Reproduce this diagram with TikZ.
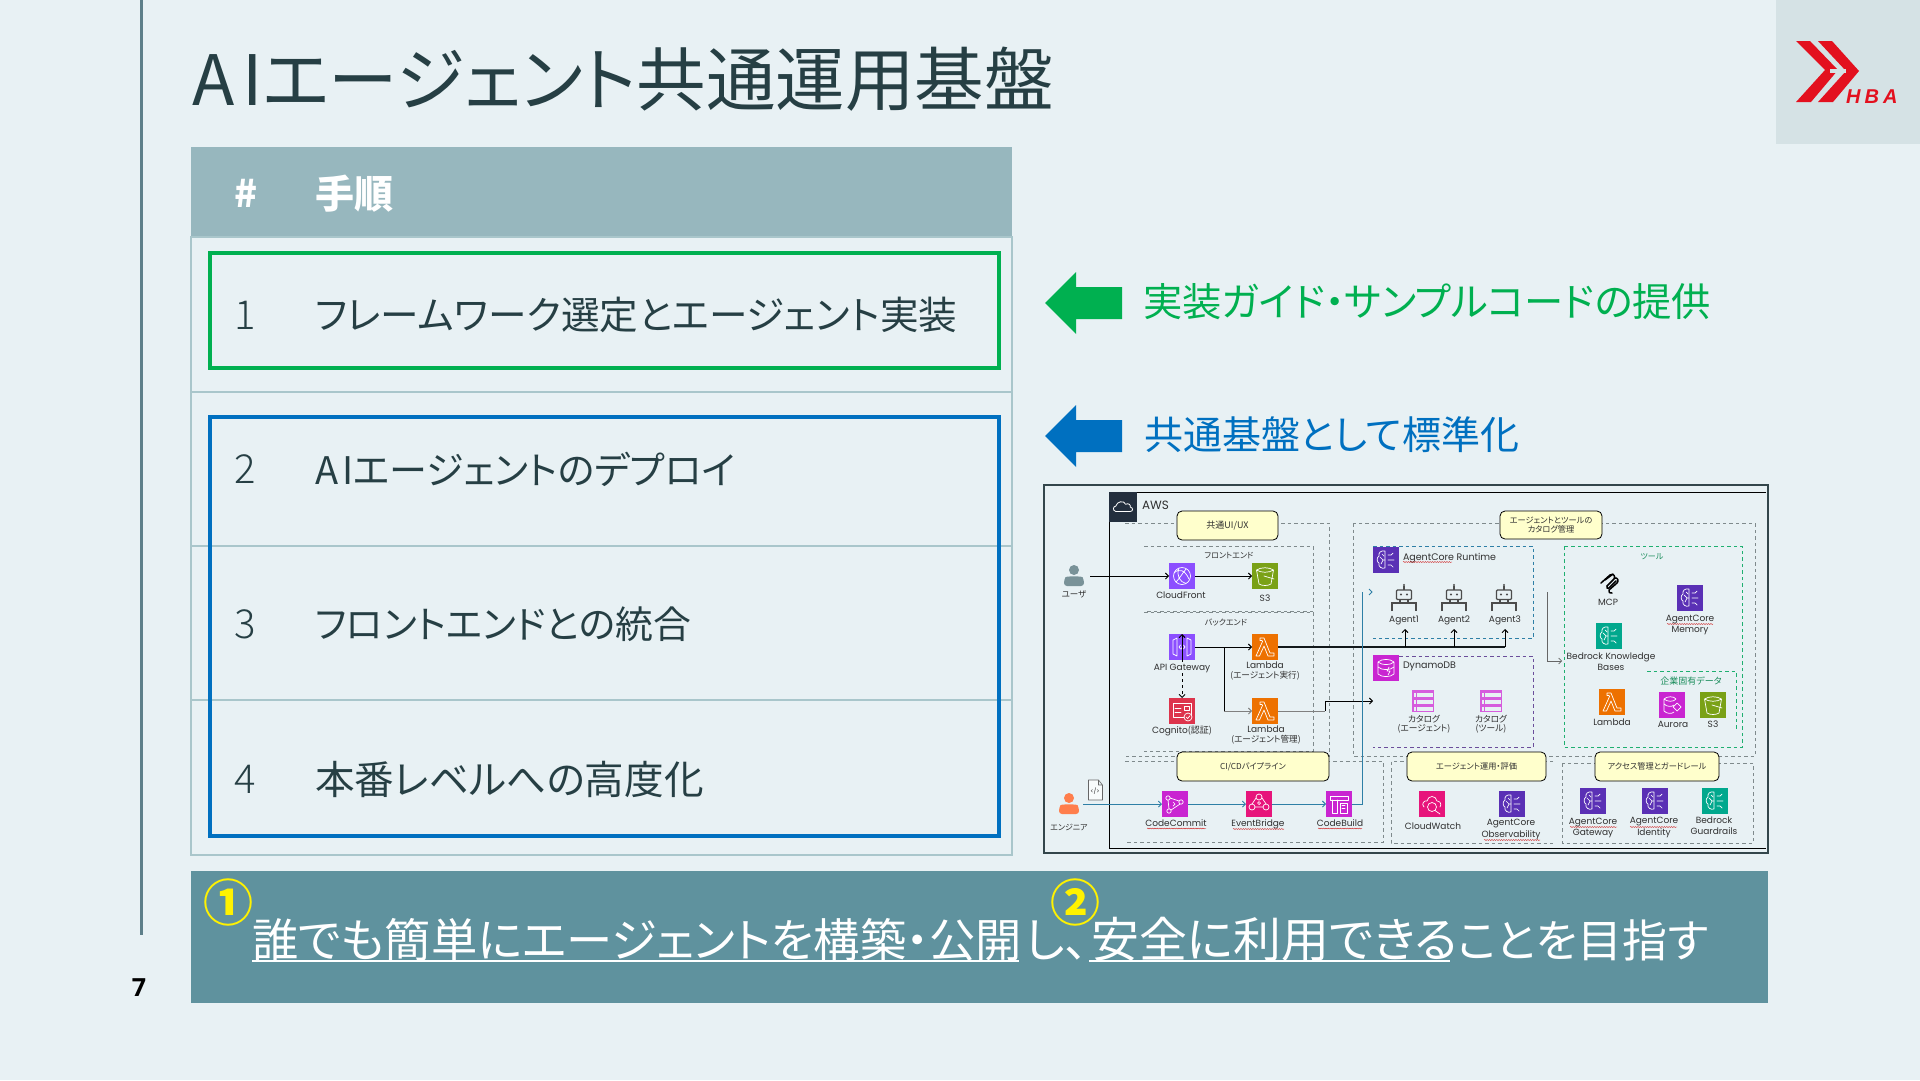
\documentclass[tikz,border=0pt]{standalone}
\usepackage{fontspec}
\usetikzlibrary{arrows.meta,decorations.pathmorphing,calc}
\setmainfont[RawFeature={+palt}]{Noto Sans CJK JP}
\newfontfamily\lightf[RawFeature={+palt}]{Noto Sans CJK JP Light}
\newfontfamily\lat{Poppins}
\newfontfamily\numf{Open Sans}
\newfontfamily\hbaf[LetterSpace=20]{Liberation Sans}
\newcommand\fs[1]{\fontsize{#1}{#1}\selectfont}
\definecolor{bgc}{HTML}{E8F1F4}
\definecolor{rulec}{HTML}{5D7F89}
\definecolor{headc}{HTML}{97B7BE}
\definecolor{linec}{HTML}{A9C6CB}
\definecolor{barc}{HTML}{5F929E}
\definecolor{ink}{HTML}{263F44}
\definecolor{grn}{HTML}{00B050}
\definecolor{blu}{HTML}{0070C0}
\definecolor{logoc}{HTML}{E3101E}
\definecolor{logobg}{HTML}{D5E2E5}
\definecolor{cPurple}{HTML}{8C4FFF}
\definecolor{cGreen}{HTML}{7AA116}
\definecolor{cOrange}{HTML}{ED7100}
\definecolor{cRed}{HTML}{DD344C}
\definecolor{cMag}{HTML}{C925D1}
\definecolor{cPink}{HTML}{E7157B}
\definecolor{cBrain}{HTML}{5A30B5}
\definecolor{cTeal}{HTML}{01A88D}
\definecolor{pipe}{HTML}{2E7FA6}
\definecolor{pill}{HTML}{FFFFCC}
\definecolor{dashg}{HTML}{7F8A8C}
\definecolor{dashp}{HTML}{6B4E9B}
\definecolor{dashb}{HTML}{2E7FA6}
\definecolor{dashn}{HTML}{1FAF70}
\definecolor{labc}{HTML}{303030}
\tikzset{
  txt/.style={inner sep=0pt,outer sep=0pt,anchor=west},
  lab/.style={inner sep=0pt,align=center,text=labc,font=\fs{8}},
  ico/.style={minimum size=26pt,inner sep=0pt,outer sep=0pt},
  gl/.style={draw=white,line width=.7pt,line join=round,line cap=round},
  dbox/.style={dash pattern=on 3.5pt off 3pt,line width=.7pt,draw=dashg},
  pillbox/.style={draw=black,line width=.8pt,fill=pill,rounded corners=5pt,inner sep=0pt,align=center,font=\fs{8.2},text=labc},
  arr/.style={-{Straight Barb[length=3pt,width=6pt]},line width=.9pt,draw=black},
  pipearr/.style={-{Straight Barb[length=3pt,width=6pt]},line width=.9pt,draw=pipe},
  squig/.style={draw=red!80!black,line width=.35pt,decorate,decoration={snake,amplitude=.5pt,segment length=2.4pt}},
  gbrain/.pic={
    \draw[gl] (-1,-9) .. controls (-5,-10) and (-8,-7) .. (-7,-4) .. controls (-10,-2) and (-9,2) .. (-7,3) .. controls (-8,7) and (-4,9) .. (-1,8) -- cycle;
    \draw[gl] (-6,-3) -- (-3,0) -- (-5,4) (-3,0)--(-1,0) (-4,-6)--(-2,-4);
    \draw[gl] (2,-5) -- (5,-5) (2,0) -- (8,0) (2,5) -- (5,5) (5,-5)--(7,-7) (5,5)--(7,7);
  },
  gcf/.pic={
    \draw[gl] (0,0) circle (8.5);
    \draw[gl] (-8,-3) .. controls (-3,-8) and (3,-6) .. (7,3) (-3,-8) .. controls (-6,0) and (-2,6) .. (4,7.5) (4,-7) .. controls (0,-2) and (-3,3) .. (-6,6);
  },
  gs3/.pic={
    \draw[gl] (-8.5,-6) .. controls (-4,-9) and (4,-9) .. (8.5,-6) .. controls (4,-3) and (-4,-3) .. (-8.5,-6) -- (-6,8) .. controls (-3,10) and (3,10) .. (6,8) -- (8.5,-6);
    \draw[gl] (-1,0) -- (9,3);
  },
  gapi/.pic={
    \draw[gl] (-9,-7) -- (-5,-9) -- (-5,9) -- (-9,7) -- cycle (9,-7) -- (5,-9) -- (5,9) -- (9,7) -- cycle;
    \draw[gl] (-3,0) -- (-1.5,-2) (-3,0) -- (-1.5,2) (3,0) -- (1.5,-2) (3,0) -- (1.5,2) (-.5,2) -- (.5,-2);
  },
  glam/.pic={
    \draw[gl] (-5,-9) -- (-1,-9) -- (5,6) -- (9,6) -- (9,9) -- (3,9) -- (-1,-1) -- (-5.5,9) -- (-9,9) -- (-2.5,-5.5) -- (-3,-6.5) -- (-5,-6.5) -- cycle;
  },
  gcog/.pic={
    \draw[gl] (-9,-8) rectangle (9,6);
    \draw[gl] (-7,-3) -- (-1,-3) (-7,1) -- (-1,1) (2,-5) rectangle (7,-1);
    \draw[gl,fill=cRed] (6,6) circle (4);
    \draw[gl] (4.2,6) -- (5.6,7.6) -- (8,4.6);
  },
  gcom/.pic={
    \draw[gl] (-7,-6) circle (2.2) (-6,7) circle (2.2) (6,-2) circle (2.2);
    \draw[gl] (-7,-4) -- (-6,5) (-5,-6) -- (4,-3) (-4,6) -- (5,0) (-2,-2) -- (0,0) -- (-2,2);
  },
  gev/.pic={
    \draw[gl] (0,-7) circle (3) (-7,3) circle (3) (7,3) circle (3);
    \draw[gl] (-3,-6) -- (-7,0) (3,-6) -- (7,0) (-4,3) -- (4,3);
    \draw[gl] (0,-1) circle (1.5);
  },
  gbuild/.pic={
    \draw[gl] (-9,-8) -- (9,-8) -- (9,-4) -- (-9,-4) -- cycle;
    \draw[gl] (-7,-4) -- (-7,9) -- (-2,9) -- (-2,-4) (1,-1) rectangle (8,9);
    \draw[gl] (3,4) -- (6,4) (3,1.5) -- (6,1.5);
  },
  gdyn/.pic={
    \draw[gl] (-8,-6) .. controls (-4,-9.5) and (4,-9.5) .. (8,-6) .. controls (4,-2.5) and (-4,-2.5) .. (-8,-6) -- (-8,6) .. controls (-4,9.5) and (4,9.5) .. (8,6) -- (8,-6);
    \draw[gl] (-8,-1) .. controls (-4,2.5) and (4,2.5) .. (8,-1);
    \draw[gl] (3,-1) -- (1,3) -- (4,3) -- (2,7);
  },
  gaur/.pic={
    \draw[gl] (-8,-6) .. controls (-5,-9) and (2,-9) .. (4,-6) .. controls (2,-3) and (-5,-3) .. (-8,-6) -- (-8,6) .. controls (-5,9) and (0,9) .. (2,7);
    \draw[gl] (-8,-1) .. controls (-5,2) and (0,2) .. (2,0);
    \draw[gl] (5,-2) -- (9,2) -- (5,6) -- (1,2) -- cycle;
  },
  gcw/.pic={
    \draw[gl] (-8,3) .. controls (-11,0) and (-8,-4) .. (-5,-3) .. controls (-4,-9) and (4,-9) .. (5,-3) .. controls (8,-3) and (10,0) .. (8,3);
    \draw[gl] (0,3) circle (4.5) (3,6.5) -- (8,10);
  },
  grobot/.pic={
    \draw[draw=black!70,line width=1.2pt,rounded corners=1pt] (-7.5,-8) rectangle (7.5,1.5);
    \draw[draw=black!70,line width=1.2pt] (0,-8) -- (0,-12) (-12,13) -- (-12,5) -- (12,5) -- (12,13) (-4,1.5)--(-4,5) (4,1.5)--(4,5);
    \fill[black!70] (0,-13) circle (1.2) (-3,-3.5) circle (1.2) (3,-3.5) circle (1.2);
  },
  gtable/.pic={
    \fill[cMag!75] (-11,-11) rectangle (11,11);
    \foreach \yy in {-8,-1,6} \fill[bgc] (-6,\yy) rectangle (9.5,\yy+3.5);
    \foreach \yy in {-8,-1,6} \fill[bgc] (-9.5,\yy) rectangle (-7.5,\yy+3.5);
  },
  gperson/.pic={
    \fill (0,-6) circle (5);
    \fill[rounded corners=3pt] (-10,10) -- (-10,4) .. controls (-8,0) and (8,0) .. (10,4) -- (10,10) -- cycle;
  },
  gmcp/.pic={
    \draw[black,line width=1.5pt,line cap=round,line join=round] (-8,-1) -- (1,-9) .. controls (4,-11) and (7,-8) .. (5,-5) -- (-2,2) (-4,-4) -- (4,-10) (5,-6) .. controls (9,-7) and (10,-3) .. (8,-1) -- (0,6) .. controls (-1,8) and (1,10) .. (3,9);
    \draw[black,line width=1.5pt,line cap=round] (-2,2) .. controls (-3,4) and (-1,5) .. (0,4) -- (7,-3);
  },
  gcloud/.pic={
    \draw[white,line width=.8pt,line join=round] (-8,5) .. controls (-12,4) and (-11,-1) .. (-8,-1) .. controls (-7,-6) and (1,-8) .. (3,-3) .. controls (6,-5) and (9,-2) .. (8,0) .. controls (12,1) and (11,5) .. (8,5) -- cycle;
  },
  gdoc/.pic={
    \draw[draw=black!60,line width=.6pt,fill=white!70!bgc,line join=round] (-7,-10) -- (3,-10) -- (7,-5) -- (7,10) -- (-7,10) -- cycle (3,-10) -- (3,-5) -- (7,-5);
  },
}
\newcommand\ic[5]{\node[ico,fill=#4] (#1) at (#2,#3) {}; \pic at (#1) {#5};}
\begin{document}
\begin{tikzpicture}[x=1pt,y=-1pt]
\useasboundingbox (0,0) rectangle (1920,1080);
\fill[bgc] (0,0) rectangle (1920,1080);
% left rule
\coordinate (ruletop) at (141,0); \coordinate (rulebot) at (141,935);
\draw[rulec,line width=3pt] (ruletop) -- (rulebot);
% title
\node[txt,text=ink,font=\fs{69.5}] (title) at (192,79) {A\hspace{8pt}Iエージェント共通運用基盤};
% logo
\fill[logobg] (1776,0) rectangle (1920,144);
\fill[logoc] (1796,41) -- (1810,41) -- (1838,70) -- (1811,102) -- (1796,102) -- (1825,70) -- cycle;
\fill[logoc] (1818,41) -- (1832,41) -- (1859,71) -- (1833,102) -- (1818,102) -- (1846,71) -- cycle;
\fill[logobg] (1830,68.6) -- (1846,68.6) -- (1846,73.4) -- (1830,73.4) -- cycle;
\node[inner sep=0pt,anchor=west,text=logoc,font=\hbaf\fs{20}\bfseries\itshape] (hba) at (1846,96.5) {HBA};
% table
\fill[headc] (191,147) rectangle (1012,237);
\node[inner sep=0pt,text=white,font=\fs{38}\bfseries] (hnum) at (246,193) {\#};
\node[txt,text=white,font=\fs{39}\bfseries] (hstep) at (315,194) {手順};
\draw[linec,line width=1.2pt] (191,237) rectangle (1012,855);
\draw[linec,line width=1.2pt] (191,392) -- (1012,392) (191,546) -- (1012,546) (191,700) -- (1012,700);
\draw[grn,line width=4pt] (210,253) rectangle (999,368);
\draw[blu,line width=4pt] (210,417) rectangle (999,836);
\foreach \nm/\yy/\nn/\sz/\tt in {r1/315/1/38.6/フレームワーク選定とエージェント実装,r2/469/2/38/A\hspace{4pt}Iエージェントのデプロイ,r3/624/3/37.8/フロントエンドとの統合,r4/779/4/39.6/本番レベルへの高度化}{
  \node[inner sep=0pt,text=ink,font=\lightf\fs{40}] (n\nm) at (245,\yy) {\nn};
  \node[txt,text=ink,font=\fs{\sz}] (t\nm) at (315,\yy) {\tt};
}
% big arrows
\fill[grn] (1045,303) -- (1076,272) -- (1076,287) -- (1122,287) -- (1122,319) -- (1076,319) -- (1076,334) -- cycle;
\fill[blu] (1045,436) -- (1076,405) -- (1076,420) -- (1122,420) -- (1122,452) -- (1076,452) -- (1076,467) -- cycle;
\node[txt,text=grn,font=\fs{39.3}] (impl) at (1143,302) {実装ガイド・サンプルコードの提供};
\node[txt,text=blu,font=\fs{39}] (std) at (1144,435) {共通基盤として標準化};
% bottom bar
\fill[barc] (191,871) rectangle (1768,1003);
\node[txt,text=white,font=\fs{46.3}] (msg) at (252,939) {誰でも簡単にエージェントを構築・公開\hspace{3pt}{\fs{47}し、}\hspace{3pt}{\fs{47.9}安全に利用できる}{\fs{45}ことを目指す}};
\draw[white,line width=2pt] (252,961) -- (1019,961) (1089,961) -- (1450,961);
\node[inner sep=0pt,text=yellow,font=\fs{50}\bfseries] (c1) at (228,902) {①};
\node[inner sep=0pt,text=yellow,font=\fs{50}\bfseries] (c2) at (1075,902) {②};
\node[inner sep=0pt,font=\numf\fs{25}\bfseries] (pg) at (139,988) {7};
% diagram frame
\draw[draw=rulec!55!black,line width=1.8pt] (1044,485) rectangle (1768,853);
\draw[black,line width=1pt] (1766,492) -- (1109,492) -- (1109,848) -- (1766,848);
\node[ico,fill={rgb,255:red,35;green,47;blue,62},minimum width=28pt,minimum height=30pt] (awsic) at (1123,507) {};
\pic[scale=.9] at (awsic) {gcloud};
\node[txt,text=labc,font=\lat\fs{12}] (aws) at (1142,505) {AWS};
% dashed groups
\draw[dbox] (1125,523) -- (1329,523) -- (1329,756) -- (1125,756);
\draw[dbox] (1144,546) -- (1313,546) -- (1313,611) -- (1144,611);
\draw[dbox] (1144,612) -- (1313,612) -- (1313,751) -- (1144,751);
\draw[dbox] (1125,761) -- (1383,761) -- (1383,842) -- (1125,842);
\draw[dbox] (1353,523) rectangle (1755,756);
\draw[dbox,draw=dashb] (1373,546) -- (1533,546) -- (1533,638) -- (1373,638);
\draw[dbox,draw=dashp] (1373,656) -- (1533,656) -- (1533,747) -- (1373,747);
\draw[dbox,draw=dashn] (1564,546) rectangle (1742,747);
\draw[dbox,draw=dashn] (1647,671) -- (1736,671) -- (1736,731);
\draw[dbox] (1553,761) -- (1391,761) -- (1391,843) -- (1553,843);
\draw[dbox] (1562,763) rectangle (1753,843);
% pills
\node[pillbox,minimum width=101pt,minimum height=29pt,font=\fs{9}] (pui) at (1227.5,525.5) {共通UI/UX};
\node[pillbox,minimum width=152pt,minimum height=29pt,font=\fs{8.2}] (pcicd) at (1253,766.5) {CI/CDパイプライン};
\node[pillbox,minimum width=102pt,minimum height=28pt] (pcat) at (1551,525) {エージェントとツールの\\[1pt]カタログ管理};
\node[pillbox,minimum width=139pt,minimum height=29pt] (peval) at (1476.5,766.5) {エージェント運用・評価};
\node[pillbox,minimum width=124pt,minimum height=29pt] (pacc) at (1657,766.5) {アクセス管理とガードレール};
% group labels
\node[lab] (lfe) at (1229,556) {フロントエンド};
\node[lab] (lbe) at (1226,623) {バックエンド};
\node[lab,text=dashn!80!black] (ltool) at (1652,557) {ツール};
\node[lab,text=dashn!80!black,font=\fs{9}] (lcorp) at (1691,681) {企業固有データ};
% persons
\pic[fill=headc!80!black,draw=none] at (1074,576) {gperson};
\coordinate (user) at (1074,576);
\node[lab,font=\fs{8.5}] (luser) at (1074,594) {ユーザ};
\pic[fill=red!45!orange!70!white,draw=none] at (1069,804) {gperson};
\coordinate (eng) at (1069,804);
\node[lab] (leng) at (1069,827) {エンジニア};
\pic at (1095.5,790) {gdoc};
\node[inner sep=0pt,font=\lat\fs{6},text=labc] (ldoc) at (1095,791) {</>};
% icons
\ic{cf}{1182}{576}{cPurple}{gcf}
\ic{sthree}{1265}{576}{cGreen}{gs3}
\ic{apigw}{1182}{647}{cPurple}{gapi}
\ic{lamA}{1265}{647}{cOrange}{glam}
\ic{cog}{1182}{711}{cRed}{gcog}
\ic{lamB}{1265}{711}{cOrange}{glam}
\ic{ccom}{1175}{804}{cMag}{gcom}
\ic{evb}{1259}{804}{cPink}{gev}
\ic{cbld}{1339}{804}{cMag}{gbuild}
\ic{acrt}{1386}{560}{cBrain}{gbrain}
\ic{ddb}{1386}{668}{cMag}{gdyn}
\ic{acmem}{1690}{598}{cBrain}{gbrain}
\ic{kb}{1609}{636}{cTeal}{gbrain}
\ic{lamC}{1612}{702}{cOrange}{glam}
\ic{aur}{1672}{705}{cMag}{gaur}
\ic{sthreeB}{1713}{705}{cGreen}{gs3}
\ic{cw}{1432}{804}{cPink}{gcw}
\ic{acobs}{1512}{804}{cBrain}{gbrain}
\ic{acgw}{1593}{801}{cBrain}{gbrain}
\ic{acid}{1655}{801}{cBrain}{gbrain}
\ic{guard}{1715}{801}{cTeal}{gbrain}
% robots, tables, mcp
\coordinate (ag1) at (1404,598); \coordinate (ag2) at (1454,598); \coordinate (ag3) at (1504,598);
\pic at (ag1) {grobot}; \pic at (ag2) {grobot}; \pic at (ag3) {grobot};
\pic at (1423,701) {gtable}; \pic at (1491,701) {gtable};
\pic at (1609,584) {gmcp};
% labels
\node[lab,font=\lat\fs{9}] (lcf) at (1181,595) {CloudFront};
\node[lab,font=\lat\fs{9}] (ls3) at (1265,598) {S3};
\node[lab,font=\lat\fs{9}] (lapi) at (1182,668) {API Gateway};
\node[lab] (llam) at (1265,671) {{\lat\fs{9}Lambda}\\[1.5pt]\fs{8.6}(エージェント実行)};
\node[lab,font=\fs{9}] (lcog) at (1182,731) {{\lat\fs{9}Cognito}(認証)};
\node[lab] (llamb) at (1266,735) {{\lat\fs{9}Lambda}\\[1.5pt]\fs{8.6}(エージェント管理)};
\node[lab,font=\lat\fs{9}] (lcom) at (1176,823) {CodeCommit};
\node[lab,font=\lat\fs{9}] (levb) at (1258,824) {EventBridge};
\node[lab,font=\lat\fs{9}] (lbld) at (1340,823) {CodeBuild};
\node[txt,text=labc,font=\lat\fs{9.5}] (lrt) at (1403,558) {AgentCore Runtime};
\node[txt,text=labc,font=\lat\fs{9.5}] (lddb) at (1403,666) {DynamoDB};
\node[lab,font=\lat\fs{9}] (la1) at (1404,620) {Agent1};
\node[lab,font=\lat\fs{9}] (la2) at (1454,620) {Agent2};
\node[lab,font=\lat\fs{9}] (la3) at (1505,620) {Agent3};
\node[lab,font=\fs{8.7}] (lcatA) at (1424,724.5) {カタログ\\[.5pt](エージェント)};
\node[lab,font=\fs{8.7}] (lcatB) at (1491,724.5) {カタログ\\[.5pt](ツール)};
\node[lab,font=\lat\fs{9}] (lmcp) at (1608,602) {MCP};
\node[lab,font=\lat\fs{9}] (lmem) at (1690,625) {AgentCore\\[2pt]Memory};
\node[lab,font=\lat\fs{9}] (lkb) at (1611,662) {Bedrock Knowledge\\[2pt]Bases};
\node[lab,font=\lat\fs{9}] (llamc) at (1612,722) {Lambda};
\node[lab,font=\lat\fs{9}] (laur) at (1673,724) {Aurora};
\node[lab,font=\lat\fs{9}] (ls3b) at (1713,724) {S3};
\node[lab,font=\lat\fs{9}] (lcw) at (1433,826) {CloudWatch};
\node[lab,font=\lat\fs{9}] (lobs) at (1511,829.5) {AgentCore\\[2pt]Observability};
\node[lab,font=\lat\fs{9}] (lgw) at (1593,827.5) {AgentCore\\[2pt]Gateway};
\node[lab,font=\lat\fs{9}] (lid) at (1654,827.5) {AgentCore\\[2pt]Identity};
\node[lab,font=\lat\fs{9}] (lguard) at (1714,825.5) {Bedrock\\[2pt]Guardrails};
% spell-check squiggles
\foreach \a/\b/\c in {1147/1206/828.5,1233/1284/829,1318/1362/828.5,1403/1452/562,1667/1713/624,1484/1540/840,1570/1617/827,1630/1677/827}
  \draw[squig] (\a,\c) -- (\b,\c);
% connectors
\draw[arr] ([xshift=16pt]user) -- (cf.west);
\draw[arr] (cf.east) -- (sthree.west);
\draw[arr] ([yshift=-28pt]apigw.north) -- (apigw.north);
\draw[arr] (apigw.east) -- (lamA.west);
\draw[arr,dashed] ([yshift=25pt]cog.north) -- (cog.north);
\coordinate (branch) at (1224,647);
\draw[black,line width=.9pt] (branch) -- (1224,711);
\draw[arr,draw=black!50] (1224,711) -- (lamB.west);
\coordinate (bendA) at (1325,711); \coordinate (bendB) at (1325,701);
\draw[black!50,line width=.9pt] (lamB.east) -- (bendA);
\draw[arr] (bendA) -- (bendB) -- (1373,701);
\coordinate (busend) at (1505,647);
\draw[black!80!rulec,line width=1.4pt] (lamA.east) -- (busend);
\draw[arr] (1405,647) -- (1405,629);
\draw[arr] (1454,647) -- (1454,629);
\draw[arr] (1505,647) -- (1505,629);
\draw[pipearr] ([xshift=14pt]eng) -- (ccom.west);
\draw[pipearr] (ccom.east) -- (evb.west);
\draw[pipearr] (evb.east) -- (cbld.west);
\coordinate (upA) at (1362,804); \coordinate (upB) at (1362,592);
\draw[draw=pipe,line width=.9pt] (cbld.east) -- (upA) -- (upB);
\draw[draw=pipe,line width=.8pt] (1369,589) -- (1372,592) -- (1369,595);
\coordinate (toolA) at (1547,592); \coordinate (toolB) at (1547,661);
\draw[arr,draw=black!60,line width=.6pt] (toolA) -- (toolB) -- (1562,661);
\end{tikzpicture}
\end{document}
